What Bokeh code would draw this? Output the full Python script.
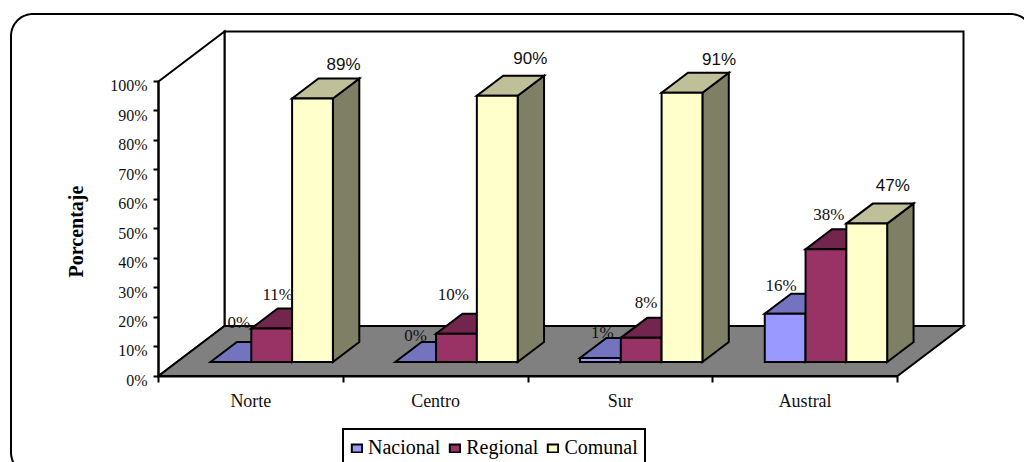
import numpy as np
from bokeh.plotting import figure
from bokeh.models import Range1d, FixedTicker, LinearAxis, Legend, LegendItem, ColumnDataSource
from bokeh.core.properties import value
from bokeh.embed import file_html
from bokeh.resources import INLINE

# ---- data ----
categories = ["Norte", "Centro", "Sur", "Austral"]
nacional = [0.0, 0.0, 1.4, 16.4]
regional = [11.4, 9.6, 8.2, 38.3]
comunal = [89.45, 90.4, 91.4, 47.0]
series_names = ["Nacional", "Regional", "Comunal"]
y_ticks = [0, 10, 20, 30, 40, 50, 60, 70, 80, 90, 100]

# ---- style ----
front_colors = ["#9999FF", "#993366", "#FFFFCC"]
top_colors = ["#7373BF", "#73264D", "#BFBF99"]
side_colors = ["#4D4D80", "#4D1A33", "#7F7F66"]
label_fonts = ["Liberation Serif", "Liberation Serif", "Liberation Sans"]
label_dx = [[8, 0, 2, -4], [6, -3, 5, 3], [31, 33, 37, 26]]
label_dy = [[-40, -27, -25, -28], [-34, -39, -35, -35], [-34, -37, -33, -38]]
TICK_LABEL_SHIFT = 1.5  # tick labels sit slightly below their ticks in the reference

# ---- layout (page pixels) ----
ORIGIN_X, ORIGIN_Y = 158.0, 375.5
CAT_PX, PCT_PX = 184.75, 2.945
WALL_DX, WALL_DY = 66.0, 50.0
W, H = 1024, 462
BAR_PX = 40.8
GROUP_OFFSET = 52.0
BAR_FRONT, BAR_BACK = 0.28, 0.68


def dx(px):
    return px / CAT_PX


def dy(px):
    return px / PCT_PX


def proj(c, v, d):
    return c + dx(WALL_DX * d), v + dy(WALL_DY * d)


p = figure(
    width=W, height=H, output_backend="svg", toolbar_location=None,
    x_range=Range1d(dx(-ORIGIN_X), dx(W - ORIGIN_X)),
    y_range=Range1d(dy(ORIGIN_Y - H), dy(ORIGIN_Y)),
    min_border=0, outline_line_color=None, background_fill_color="white",
    border_fill_color="white",
)
p.grid.visible = False

LW = 2
# outer rounded frame
fl, ft, fr, fb, rad = 10.5, 13.5, 1032.0, 474.0, 22.0
t = np.linspace(0, np.pi / 2, 16)
fx = np.concatenate([fl + rad - rad * np.cos(t), fr - rad + rad * np.sin(t),
                     fr - rad + rad * np.cos(t), fl + rad - rad * np.sin(t), [fl]])
fy = np.concatenate([ft + rad - rad * np.sin(t), ft + rad - rad * np.cos(t),
                     fb - rad + rad * np.sin(t), fb - rad + rad * np.cos(t), [ft + rad]])
p.line(dx(fx - ORIGIN_X), dy(ORIGIN_Y - fy), line_color="black", line_width=LW)

n = len(categories)
top_v = y_ticks[-1]


def poly(points, fill):
    xs, ys = zip(*points)
    return p.patch(list(xs), list(ys), fill_color=fill, line_color="black", line_width=LW,
                   line_join="miter")


# walls and floor
poly([proj(0, 0, 1), proj(0, top_v, 1), proj(n, top_v, 1), proj(n, 0, 1)], "white")
poly([proj(0, 0, 0), proj(0, top_v, 0), proj(0, top_v, 1), proj(0, 0, 1)], "white")
poly([proj(0, 0, 0), proj(n, 0, 0), proj(n, 0, 1), proj(0, 0, 1)], "#808080")

# bars
series = [nacional, regional, comunal]
renderers = [None, None, None]
lab = [dict(x=[], y=[], t=[]) for _ in series]
for i in range(n):
    for s, vals in enumerate(series):
        v = vals[i]
        c0 = i + dx(GROUP_OFFSET - WALL_DX * BAR_FRONT + s * BAR_PX)
        c1 = c0 + dx(BAR_PX)
        # side, top, front
        poly([proj(c1, 0, BAR_FRONT), proj(c1, v, BAR_FRONT), proj(c1, v, BAR_BACK), proj(c1, 0, BAR_BACK)], side_colors[s])
        poly([proj(c0, v, BAR_FRONT), proj(c1, v, BAR_FRONT), proj(c1, v, BAR_BACK), proj(c0, v, BAR_BACK)], top_colors[s])
        r = poly([proj(c0, 0, BAR_FRONT), proj(c1, 0, BAR_FRONT), proj(c1, v, BAR_FRONT), proj(c0, v, BAR_FRONT)], front_colors[s])
        renderers[s] = renderers[s] or r
        lx, ly = proj((c0 + c1) / 2, v, BAR_FRONT)
        lab[s]["x"].append(lx + dx(label_dx[s][i]))
        lab[s]["y"].append(ly - dy(label_dy[s][i]))
        lab[s]["t"].append(f"{round(v)}%")

for s in range(3):
    p.text("x", "y", text="t", source=ColumnDataSource(lab[s]), text_font=value(label_fonts[s]),
           text_font_size="17px", text_align="center", text_baseline="middle", text_color="#111111")

# y axis title
p.text([dx(75 - ORIGIN_X)], [dy(ORIGIN_Y - 231)], text=["Porcentaje"], angle=np.pi / 2,
       text_font=value("Liberation Serif"), text_font_style="bold", text_font_size="20px",
       text_align="center", text_baseline="middle", text_color="black")

# axes
ya = p.yaxis[0]
ya.fixed_location = 0
ya.bounds = (y_ticks[0], y_ticks[-1])
ya.ticker = FixedTicker(ticks=y_ticks)
ya.major_label_text_font_size = "0px"
ya.major_label_text_color = None
ya.major_tick_in, ya.major_tick_out = 0, 5
ya.minor_tick_line_color = None
ya.axis_line_width = LW
ya.major_tick_line_width = LW

yl = LinearAxis(fixed_location=0,
                ticker=FixedTicker(ticks=[v - TICK_LABEL_SHIFT for v in y_ticks]),
                major_label_overrides={v - TICK_LABEL_SHIFT: f"{v}%" for v in y_ticks},
                axis_line_color=None, major_tick_line_color=None, minor_tick_line_color=None,
                major_label_standoff=5, major_label_text_font="Liberation Serif",
                major_label_text_font_size="16px", major_label_text_color="#111111")
p.add_layout(yl, "left")

xa = p.xaxis[0]
xa.fixed_location = 0
xa.bounds = (0, n)
xa.ticker = FixedTicker(ticks=list(range(n + 1)))
xa.major_label_text_font_size = "0px"
xa.major_label_text_color = None
xa.major_tick_in, xa.major_tick_out = 0, 6
xa.minor_tick_line_color = None
xa.axis_line_width = LW
xa.major_tick_line_width = LW

xl = LinearAxis(fixed_location=0, ticker=FixedTicker(ticks=[i + 0.5 for i in range(n)]),
                major_label_overrides={i + 0.5: c for i, c in enumerate(categories)},
                axis_line_color=None, major_tick_line_color=None, minor_tick_line_color=None,
                major_label_standoff=9, major_label_text_font="Liberation Serif",
                major_label_text_font_size="18px", major_label_text_color="#111111")
p.add_layout(xl, "below")

legend = Legend(
    items=[LegendItem(label=series_names[s], renderers=[renderers[s]]) for s in range(3)],
    orientation="horizontal", location=(342, -5), margin=0, padding=6,
    glyph_width=13, glyph_height=10, label_standoff=5, spacing=8,
    label_text_font="Liberation Serif", label_text_font_size="20px", label_text_color="black",
    border_line_color="black", border_line_alpha=1, border_line_width=2,
    background_fill_color="white", background_fill_alpha=1,
)
p.add_layout(legend, "center")

open("out.html", "w").write(file_html(p, INLINE))
